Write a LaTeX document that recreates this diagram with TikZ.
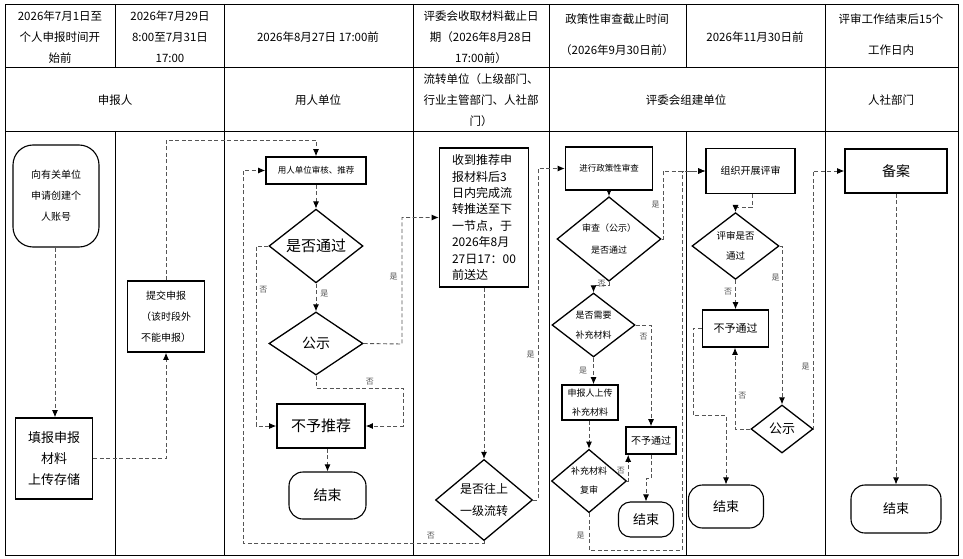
\documentclass[tikz,border=0pt]{standalone}
\usepackage{fontspec}
\setmainfont{Noto Sans CJK SC}
\usetikzlibrary{shapes.geometric,arrows.meta,calc}
\newcommand{\myfs}[2]{\fontsize{#1}{#2}\selectfont}
\definecolor{dashc}{RGB}{85,85,85}
\begin{document}
\begin{tikzpicture}[x=1pt,y=-1pt,
  grid/.style={line width=0.8pt},
  hd/.style={align=center, inner sep=0pt, font=\myfs{11.5}{21}},
  box/.style={draw, line width=1.6pt, align=center, inner sep=0pt},
  dia/.style={diamond, draw, line width=1.3pt, align=center, inner sep=0pt},
  term/.style={draw, line width=1.1pt, rounded corners=14pt, align=center, inner sep=0pt},
  conn/.style={dashc, line width=0.9pt, dash pattern=on 4pt off 2.5pt, -{Latex[length=7pt,width=6pt,black]}},
  lbl/.style={font=\myfs{8}{8}, inner sep=0pt}
]
\useasboundingbox (0,0) rectangle (963,559);
% grid
\draw[grid] (5,4) rectangle (958,555);
\draw[grid] (5,67) -- (958,67);
\draw[grid] (5,131) -- (958,131);
\foreach \x in {115,224,413,549,686,825} \draw[grid] (\x,4) -- (\x,67);
\foreach \x in {224,413,549,825} \draw[grid] (\x,67) -- (\x,131);
\foreach \x in {115,224,413,549,686,825} \draw[grid] (\x,131) -- (\x,555);
% header row 1
\node[hd] (h1) at (60,37) {2026年7月1日至\\个人申报时间开\\始前};
\node[hd] (h2) at (170,37) {2026年7月29日\\8:00至7月31日\\17:00};
\node[hd] (h3) at (318,37) {2026年8月27日 17:00前};
\node[hd] (h4) at (481,37) {评委会收取材料截止日\\期（2026年8月28日\\17:00前）};
\node[hd, font=\myfs{11.5}{31}] (h5) at (617,35) {政策性审查截止时间\\（2026年9月30日前）};
\node[hd] (h6) at (755,37) {2026年11月30日前};
\node[hd, font=\myfs{11.5}{31}] (h7) at (891,35) {评审工作结束后15个\\工作日内};
% header row 2
\node[hd] (r1) at (115,100) {申报人};
\node[hd] (r2) at (318,100) {用人单位};
\node[hd] (r3) at (481,100) {流转单位（上级部门、\\行业主管部门、人社部\\门）};
\node[hd] (r4) at (686,100) {评委会组建单位};
\node[hd] (r5) at (891,100) {人社部门};
% column 1-2
\node[term, rounded corners=20pt, minimum width=86pt, minimum height=102pt, font=\myfs{10}{21}] (n1) at (56,196) {向有关单位\\申请创建个\\人账号};
\node[box, minimum width=77pt, minimum height=81pt, font=\myfs{13}{21}] (n2) at (54,458.5) {填报申报\\材料\\上传存储};
\node[box, minimum width=77pt, minimum height=71pt, font=\myfs{10}{21}] (n3) at (166,316.5) {提交申报\\（该时段外\\不能申报）};
% column 3
\node[box, minimum width=100pt, minimum height=27pt, font=\myfs{8.5}{10}] (n4) at (316,170.5) {用人单位审核、推荐};
\node[dia, minimum width=94pt, minimum height=62pt, font=\myfs{15}{18}] (d1) at (316,246) {是否通过};
\node[dia, minimum width=94pt, minimum height=63pt, font=\myfs{14}{18}] (d2) at (316,343.5) {公示};
\node[box, minimum width=88pt, minimum height=44pt, font=\myfs{15}{18}] (n5) at (321,426) {不予推荐};
\node[term, minimum width=77pt, minimum height=47pt, font=\myfs{14}{18}] (e1) at (327.5,495.5) {结束};
% column 4
\node[box, minimum width=89pt, minimum height=139pt, align=left, font=\myfs{12}{16.4}] (n6) at (484,217.5) {收到推荐申\\报材料后3\\日内完成流\\转推送至下\\一节点，于\\2026年8月\\27日17：00\\前送达};
\node[dia, minimum width=97pt, minimum height=74pt, font=\myfs{12}{22}] (d3) at (484,500) {是否往上\\一级流转};
% column 5
\node[box, minimum width=87pt, minimum height=43pt, font=\myfs{8.5}{10}] (n7) at (609,168.5) {进行政策性审查};
\node[dia, minimum width=104pt, minimum height=62pt, font=\myfs{9}{22}] (d4) at (609,239) {审查（公示）\\是否通过};
\node[dia, minimum width=83pt, minimum height=56pt, font=\myfs{9}{20}] (d5) at (593.5,325) {是否需要\\补充材料};
\node[box, minimum width=56pt, minimum height=35pt, font=\myfs{9}{19}] (n8) at (590,402.5) {申报人上传\\补充材料};
\node[dia, minimum width=75pt, minimum height=52pt, font=\myfs{9}{19}] (d6) at (589,481) {补充材料\\复审};
\node[box, minimum width=50pt, minimum height=27pt, font=\myfs{10}{12}] (n9) at (651,440.5) {不予通过};
\node[term, rounded corners=12pt, minimum width=55pt, minimum height=35pt, font=\myfs{13}{16}] (e2) at (646,519.5) {结束};
% column 6
\node[box, minimum width=89pt, minimum height=45pt, font=\myfs{10}{12}] (n10) at (750.5,171) {组织开展评审};
\node[dia, minimum width=87pt, minimum height=58pt, font=\myfs{9.5}{20}] (d7) at (735.5,246) {评审是否\\通过};
\node[box, minimum width=66pt, minimum height=37pt, font=\myfs{11}{13}] (n11) at (735.5,328.5) {不予通过};
\node[dia, minimum width=62pt, minimum height=48pt, font=\myfs{13}{16}] (d8) at (782,429) {公示};
\node[term, minimum width=75pt, minimum height=43pt, font=\myfs{13}{16}] (e3) at (726,506.5) {结束};
% column 7
\node[box, minimum width=102pt, minimum height=44pt, font=\myfs{14}{17}] (n12) at (896,171) {备案};
\node[term, minimum width=90pt, minimum height=48pt, font=\myfs{13}{16}] (e4) at (896,509) {结束};
% coordinates
\coordinate (c3) at (166,140);
\coordinate (c6) at (256,246);
\coordinate (c7) at (402,344);
\coordinate (c8) at (403,388);
\coordinate (c10) at (243,543);
\coordinate (c12) at (538,500);
\coordinate (c14) at (663,239);
\coordinate (c15) at (609,285);
\coordinate (c21) at (682,550);
\coordinate (c24) at (782,246);
\coordinate (c25) at (735,429);
\coordinate (c26) at (813,429);
\coordinate (c27) at (693,415);
% connectors
\draw[conn] (n1.south -| 55,0) -- (n2.north -| 55,0);
\draw[conn] (n2.east) -| (n3.south);
\draw[conn] (n3.north) |- (c3) -| (n4.north);
\draw[conn] (n4.south) -- (d1.north);
\draw[conn] (d1.south) -- node[lbl, pos=0.35, right=4pt] {是} (d2.north);
\draw[conn] (d1.west) -- (c6) |- node[lbl, pos=0.12, right=3pt] {否} (n5.west);
\draw[conn] (d2.east) -- (c7) |- node[lbl, pos=0.265, left=4pt] {是} (n6.west);
\draw[conn] (d2.south) |- node[lbl, pos=0.81, above=2pt] {否} (c8) |- (n5.east);
\draw[conn] (n5.south -| e1.north) -- (e1.north);
\draw[conn] (n6.south) -- (d3.north);
\draw[conn] (d3.south) |- node[lbl, pos=0.61, above=3pt] {否} (c10) |- (n4.west);
\draw[conn] (d3.east) -- (c12) |- node[lbl, pos=0.22, left=3pt] {是} (n7.west);
\draw[conn] (n7.south) -- (d4.north);
\draw[conn] (d4.east) -- (c14) |- node[lbl, pos=0.25, left=3pt] {是} (n10.west);
\draw[conn] (d4.south) -- node[lbl, left=3pt] {否} (c15) -| (d5.north);
\draw[conn] (d5.east) -| node[lbl, pos=0.56, left=3pt] {否} (n9.north);
\draw[conn] (d5.south) -- node[lbl, pos=0.5, left=6pt] {是} (d5.south |- n8.north);
\draw[conn] (n8.south -| d6.north) -- (d6.north);
\draw[conn] (d6.east) -| node[lbl, pos=0.7, left=3pt] {否} ($(n9.south west)+(3,0)$);
\draw[conn] (n9.south) -- ++(0,24) -| (e2.north);
\draw[conn] (d6.south) |- node[lbl, pos=0.3, left=4pt] {是} (c21) |- (n10.west);
\draw[conn] (n10.south -| 752,0) -- ++(0,13) -| (d7.north);
\draw[conn] (d7.south) -- node[lbl, pos=0.4, left=3pt] {否} (n11.north);
\draw[conn] (d7.east) -- (c24) -- node[lbl, pos=0.2, left=2pt] {是} (d8.north);
\draw[conn] (d8.west) -- (c25) -- node[lbl, pos=0.41, right=3pt] {否} (n11.south -| c25);
\draw[conn] (d8.east) -- (c26) |- node[lbl, pos=0.12, left=3pt] {是} (n12.west);
\draw[conn] (n11.west) -| (c27) -| (e3.north);
\draw[conn] (n12.south) -- (e4.north);
\end{tikzpicture}
\end{document}
